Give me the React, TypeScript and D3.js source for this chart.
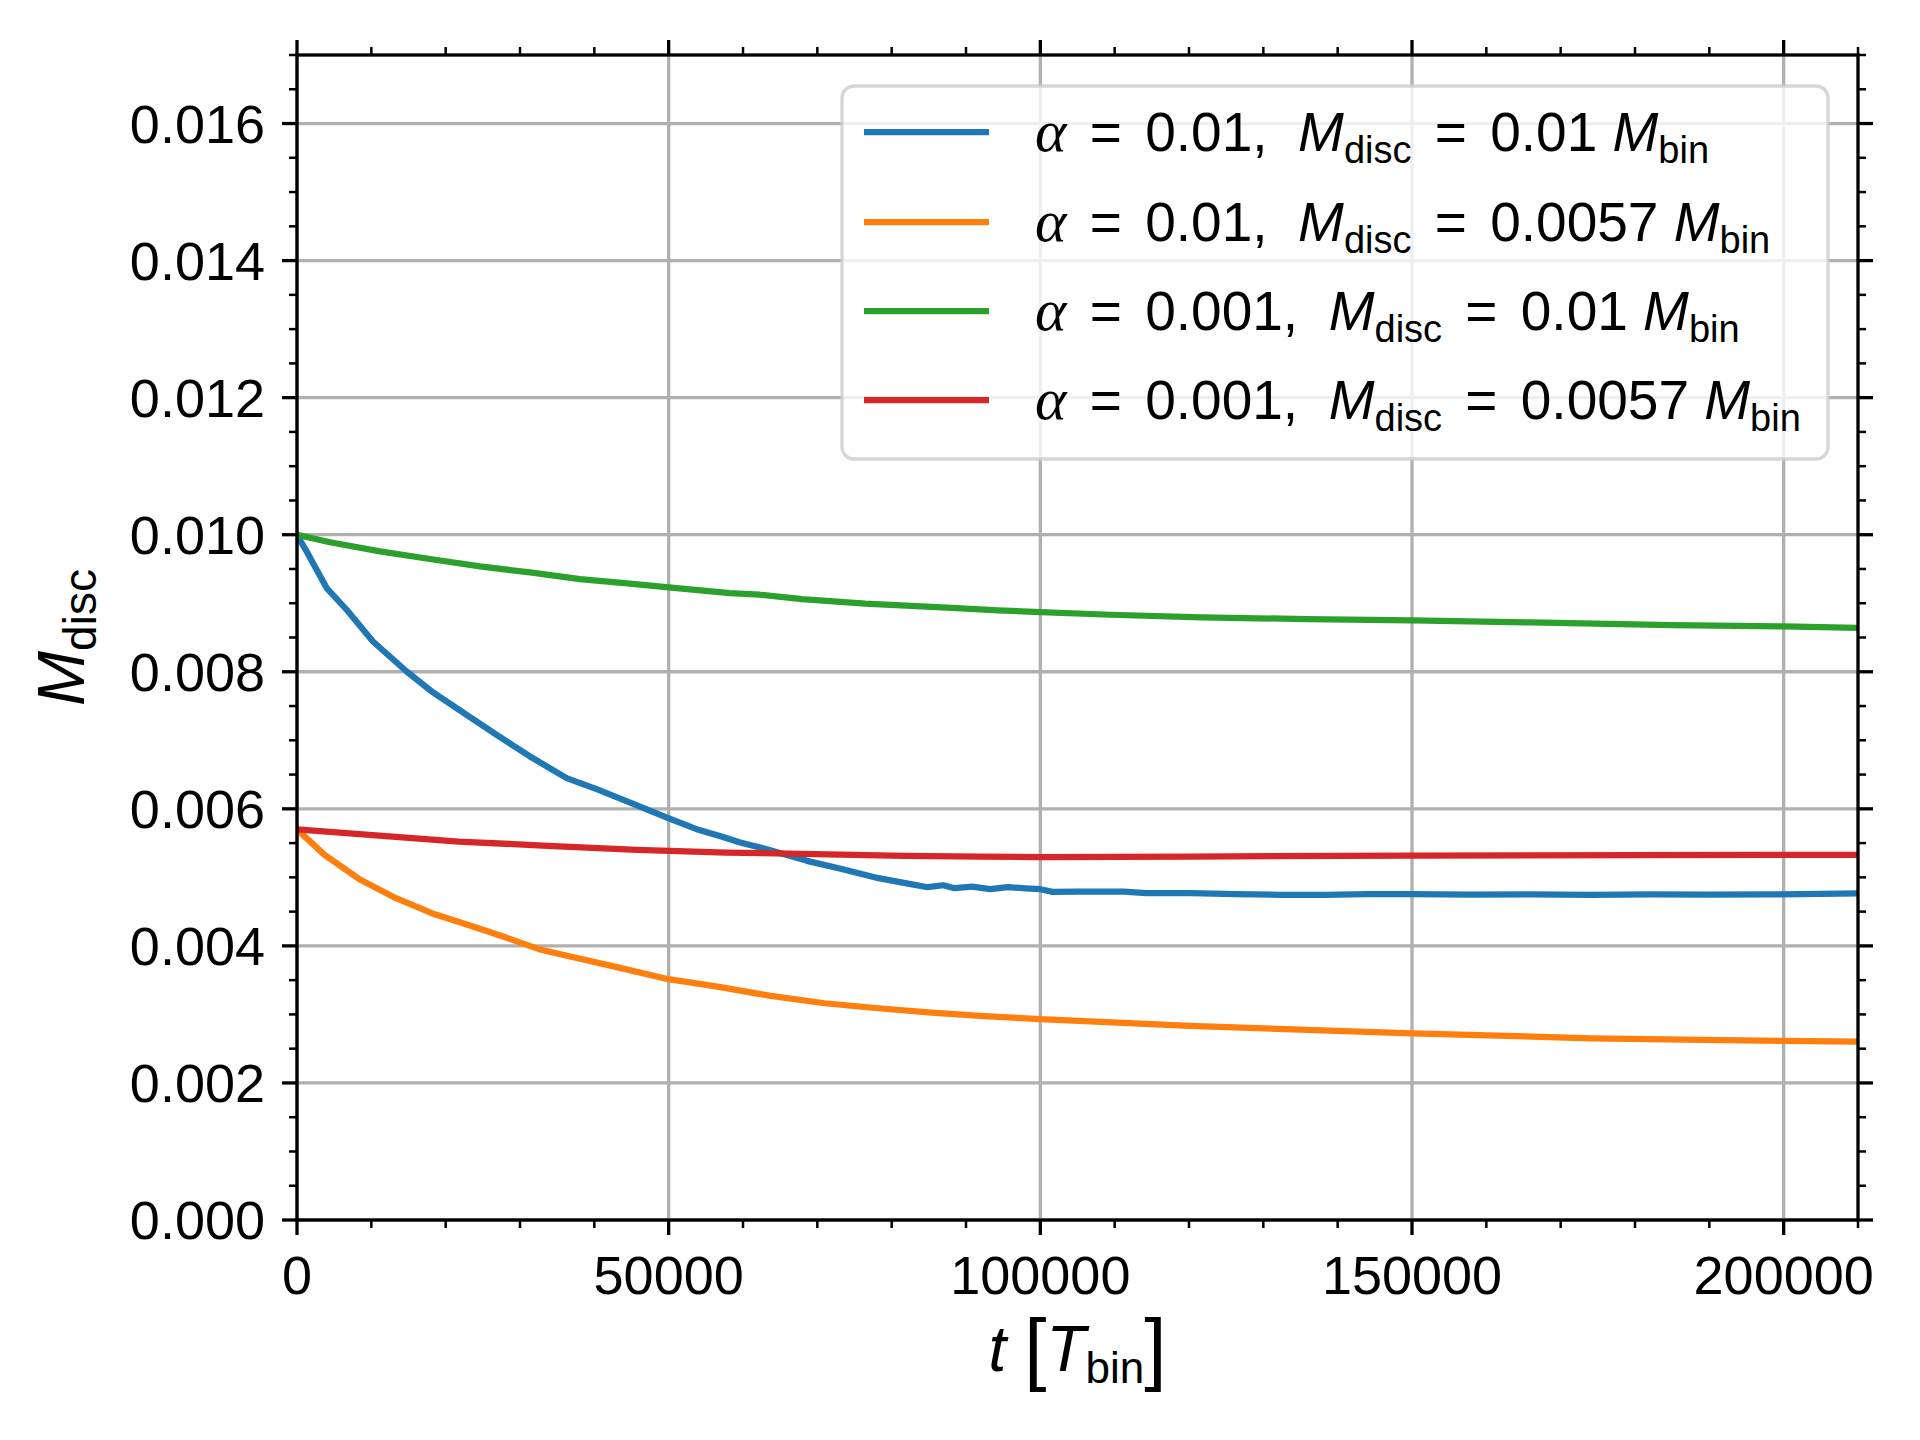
import * as d3 from "d3";

// disc mass vs time, four runs (t in binary orbits, M in units of M_bin)
const blueT = [0, 630, 1300, 3990, 6680, 10220, 14750, 18300, 22820, 26860, 31340, 36270, 40310, 45240, 49940, 53760, 57000, 59610, 63210, 68610, 73430, 78230, 81840, 84840, 86940, 88440, 90830, 93240, 95640, 98000, 100000, 101640, 105250, 111250, 114250, 120250, 126250, 132260, 138260, 144000, 150000, 158000, 166000, 174000, 182000, 190000, 198000, 205000, 210000];
const blueM = [0.01, 0.00988, 0.009756, 0.009221, 0.008905, 0.008442, 0.008004, 0.007698, 0.007372, 0.00708, 0.006764, 0.006448, 0.006288, 0.006073, 0.005864, 0.005703, 0.0056, 0.005508, 0.005411, 0.005241, 0.005119, 0.004988, 0.004915, 0.004856, 0.004885, 0.004842, 0.004866, 0.004827, 0.004856, 0.00484, 0.004827, 0.004788, 0.004793, 0.004793, 0.004769, 0.004769, 0.004754, 0.004745, 0.004745, 0.004755, 0.004755, 0.004748, 0.004752, 0.004745, 0.00475, 0.004748, 0.004752, 0.004758, 0.004765];

const orangeT = [0, 3710, 8530, 13320, 18130, 22940, 27740, 32540, 37340, 42740, 49950, 56560, 63750, 70960, 78170, 85380, 91860, 100000, 120070, 150000, 174100, 200000, 210000];
const orangeM = [0.0057, 0.005328, 0.004964, 0.004696, 0.004477, 0.004307, 0.004136, 0.003952, 0.00383, 0.003698, 0.003514, 0.003406, 0.00327, 0.003163, 0.00309, 0.003026, 0.002978, 0.00293, 0.002832, 0.002725, 0.002652, 0.002613, 0.002603];

const greenT = [0, 4438, 11163, 17888, 24613, 31338, 38063, 44788, 50000, 58237, 62270, 67920, 76420, 86800, 94350, 100000, 109440, 121710, 135860, 150000, 166040, 184910, 200000, 210000];
const greenM = [0.01, 0.00989, 0.009756, 0.009645, 0.009537, 0.00945, 0.009353, 0.009285, 0.00923, 0.009149, 0.009124, 0.009061, 0.008993, 0.008939, 0.008895, 0.008872, 0.008832, 0.008793, 0.008769, 0.008749, 0.00872, 0.008681, 0.008662, 0.008642];

const redT = [0, 9720, 21740, 33750, 45740, 57760, 69770, 81780, 91860, 100000, 120250, 150000, 180000, 210000];
const redM = [0.0057, 0.00562, 0.005523, 0.00546, 0.005401, 0.005362, 0.005338, 0.005314, 0.005304, 0.005294, 0.005304, 0.005318, 0.005325, 0.005328];

const seriesColors = ["#1f77b4", "#ff7f0e", "#2ca02c", "#d62728"];
const legendAlpha = ["0.01", "0.01", "0.001", "0.001"];
const legendMass = ["0.01", "0.0057", "0.01", "0.0057"];

const xTicks = [0, 50000, 100000, 150000, 200000];
const yTicks = [0, 0.002, 0.004, 0.006, 0.008, 0.01, 0.012, 0.014, 0.016];

const FONT = "'Liberation Sans', Arial, sans-serif";

export default function App() {
  const W = 1920, H = 1440;
  const left = 297, right = 1858, top = 55, bottom = 1220;

  const x = d3.scaleLinear().domain([0, 210000]).range([left, right]);
  const y = d3.scaleLinear().domain([0, 0.017]).range([bottom, top]);

  const xMinor = d3.range(0, 210001, 10000).filter(v => v % 50000 !== 0);
  const yMinor = d3.range(0, 35).map(i => i * 0.0005).filter((v, i) => i % 4 !== 0);

  const series = [
    { t: blueT, m: blueM },
    { t: orangeT, m: orangeM },
    { t: greenT, m: greenM },
    { t: redT, m: redM },
  ];

  const pathFor = (t: number[], m: number[]) =>
    d3.line<number>()
      .x((_, i) => x(t[i]))
      .y(d => y(d))(m) || "";

  const majorLen = 15, minorLen = 8;
  const spineW = 3.3;

  // legend layout
  const lgX = 842, lgY = 86, lgW = 986, lgH = 373;
  const rowY = [132, 222, 311, 400];

  return (
    <svg width={W} height={H} style={{ position: "absolute", left: 0, top: 0, background: "#fff" }}>
      <defs>
        <clipPath id="plotArea">
          <rect x={left} y={top} width={right - left} height={bottom - top} />
        </clipPath>
      </defs>
      <rect x={0} y={0} width={W} height={H} fill="#fff" />

      {/* grid */}
      <g stroke="#b0b0b0" strokeWidth={3.3}>
        {xTicks.map(v => <line key={"gx" + v} x1={x(v)} x2={x(v)} y1={top} y2={bottom} />)}
        {yTicks.map(v => <line key={"gy" + v} x1={left} x2={right} y1={y(v)} y2={y(v)} />)}
      </g>

      {/* data */}
      <g clipPath="url(#plotArea)" fill="none" strokeWidth={6.25} strokeLinejoin="round" strokeLinecap="square">
        {series.map((s, i) => (
          <path key={i} d={pathFor(s.t, s.m)} stroke={seriesColors[i]} />
        ))}
      </g>

      {/* spines */}
      <rect x={left} y={top} width={right - left} height={bottom - top} fill="none" stroke="#000" strokeWidth={spineW} />

      {/* ticks, outward on all four sides */}
      <g stroke="#000">
        {xTicks.map(v => (
          <g key={"tx" + v} strokeWidth={3.3}>
            <line x1={x(v)} x2={x(v)} y1={bottom} y2={bottom + majorLen} />
            <line x1={x(v)} x2={x(v)} y1={top} y2={top - majorLen} />
          </g>
        ))}
        {xMinor.map(v => (
          <g key={"mx" + v} strokeWidth={2.5}>
            <line x1={x(v)} x2={x(v)} y1={bottom} y2={bottom + minorLen} />
            <line x1={x(v)} x2={x(v)} y1={top} y2={top - minorLen} />
          </g>
        ))}
        {yTicks.map(v => (
          <g key={"ty" + v} strokeWidth={3.3}>
            <line x1={left} x2={left - majorLen} y1={y(v)} y2={y(v)} />
            <line x1={right} x2={right + majorLen} y1={y(v)} y2={y(v)} />
          </g>
        ))}
        {yMinor.map(v => (
          <g key={"my" + v} strokeWidth={2.5}>
            <line x1={left} x2={left - minorLen} y1={y(v)} y2={y(v)} />
            <line x1={right} x2={right + minorLen} y1={y(v)} y2={y(v)} />
          </g>
        ))}
      </g>

      {/* tick labels */}
      <g fontFamily={FONT} fontSize={54} fill="#000">
        {xTicks.map(v => (
          <text key={"lx" + v} x={x(v)} y={1294} textAnchor="middle">{d3.format("d")(v)}</text>
        ))}
        {yTicks.map(v => (
          <text key={"ly" + v} x={265} y={y(v) + 19} textAnchor="end">{d3.format(".3f")(v)}</text>
        ))}
      </g>

      {/* axis labels */}
      <text x={(left + right) / 2} y={1371} textAnchor="middle" fontFamily={FONT} fontSize={64} style={{ whiteSpace: "pre" }}>
        <tspan fontStyle="italic">t</tspan>
        <tspan> </tspan>
        <tspan fontSize={80} dy={4}>[</tspan>
        <tspan fontStyle="italic" dy={-4}>T</tspan>
        <tspan fontSize={44} dy={12}>bin</tspan>
        <tspan fontSize={80} dy={-8}>]</tspan>
      </text>
      <text transform={`translate(84,${(top + bottom) / 2}) rotate(-90)`} textAnchor="middle" fontFamily={FONT} fontSize={66}>
        <tspan fontStyle="italic">M</tspan>
        <tspan fontSize={46} dy={12}>disc</tspan>
      </text>

      {/* legend */}
      <g>
        <rect x={lgX} y={lgY} width={lgW} height={lgH} rx={12} ry={12}
          fill="rgba(255,255,255,0.8)" stroke="rgba(204,204,204,0.8)" strokeWidth={3.3} />
        {legendAlpha.map((a, i) => (
          <g key={"lg" + i}>
            <line x1={864} x2={989} y1={rowY[i]} y2={rowY[i]} stroke={seriesColors[i]} strokeWidth={6.25} />
            <text x={1035} y={rowY[i] + 19} fontFamily={FONT} fontSize={55} style={{ whiteSpace: "pre" }}>
              <tspan fontFamily="'Liberation Serif', serif" fontStyle="italic" fontSize={60}>α</tspan>
              <tspan dx={8}>{" = "}</tspan>
              <tspan dx={8}>{a + ",  "}</tspan>
              <tspan fontStyle="italic">M</tspan>
              <tspan fontSize={38} dy={12}>disc</tspan>
              <tspan dx={8} dy={-12}>{" = "}</tspan>
              <tspan dx={8}>{legendMass[i] + " "}</tspan>
              <tspan fontStyle="italic">M</tspan>
              <tspan fontSize={38} dy={12}>bin</tspan>
            </text>
          </g>
        ))}
      </g>
    </svg>
  );
}
